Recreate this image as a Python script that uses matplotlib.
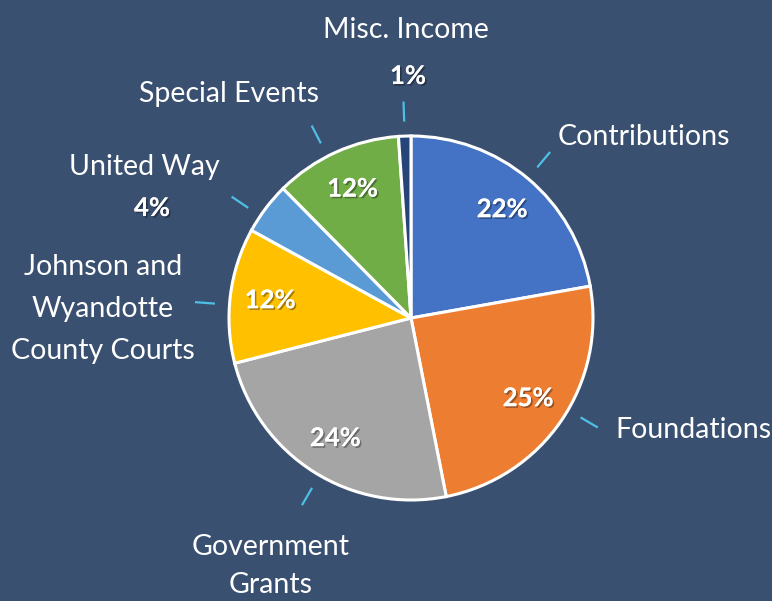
import matplotlib
matplotlib.use("Agg")
import matplotlib.pyplot as plt
import matplotlib.patheffects as pe
import numpy as np

categories = ["Contributions", "Foundations", "Government\nGrants",
              "Johnson and\nWyandotte\nCounty Courts", "United Way",
              "Special Events", "Misc. Income"]
values = [22.2, 24.7, 24.1, 12.0, 4.6, 11.3, 1.1]
pct_labels = ["22%", "25%", "24%", "12%", "4%", "12%", "1%"]
colors = ["#4472C4", "#ED7D31", "#A5A5A5", "#FFC000", "#5B9BD5", "#70AD47", "#264478"]

BG = "#3A5070"
LEAD = "#4DC0E3"

fig = plt.figure(figsize=(7.72, 6.01), dpi=100, facecolor=BG)
ax = fig.add_axes([0, 0, 1, 1])
ax.set_facecolor(BG)

cx, cy, R = 411, 601 - 318, 182
wedges, _ = ax.pie(values, colors=colors, startangle=90, counterclock=False,
                   center=(cx, cy), radius=R,
                   wedgeprops=dict(edgecolor="white", linewidth=2.2))
ax.set_xlim(0, 772)
ax.set_ylim(0, 601)
ax.set_aspect("equal")
ax.axis("off")

shadow = [pe.withSimplePatchShadow(offset=(1.2, -1.2), shadow_rgbFace="black", alpha=0.35), pe.Normal()]
label_font = dict(family=["Lato", "DejaVu Sans"], color="white", fontsize=20.5, fontweight="normal")
pct_font = dict(family=["Lato", "DejaVu Sans"], color="white", fontsize=18.5, fontweight="bold")

# leader line angle tweaks (degrees) relative to the wedge mid-angle
lead_shift = [0, 4, 2, 3, 3, 3, 0]

for i, w in enumerate(wedges):
    mid = (w.theta1 + w.theta2) / 2
    a = np.deg2rad(mid + lead_shift[i])
    r0, r1 = 1.08 * R, 1.19 * R
    ax.plot([cx + r0 * np.cos(a), cx + r1 * np.cos(a)],
            [cy + r0 * np.sin(a), cy + r1 * np.sin(a)],
            color=LEAD, lw=1.6, solid_capstyle="butt")
    if values[i] >= 10:
        m = np.deg2rad(mid)
        rp = 0.78 * R
        ax.text(cx + rp * np.cos(m), cy + rp * np.sin(m), pct_labels[i],
                ha="center", va="center", path_effects=shadow, **pct_font)

# outside labels (x, y from top, line spacing)
out_pos = {
    0: (644, 137, 1.3),
    1: (693, 430, 1.3),
    2: (271, 566, 1.6),
    3: (103, 309, 1.78),
    4: (144, 167, 1.3),
    5: (229, 94, 1.3),
    6: (406, 30, 1.3),
}
for i, (x, y, ls) in out_pos.items():
    ax.text(x, 601 - y, categories[i], ha="center", va="center", linespacing=ls, **label_font)

# small-slice percentages outside
ax.text(152, 601 - 208, pct_labels[4], ha="center", va="center", path_effects=shadow, **pct_font)
ax.text(408, 601 - 76, pct_labels[6], ha="center", va="center", path_effects=shadow, **pct_font)

fig.savefig("out.png", dpi=100, facecolor=BG)
